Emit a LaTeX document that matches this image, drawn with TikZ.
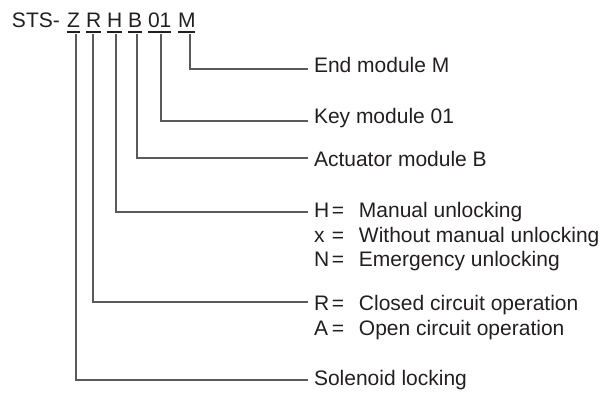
\documentclass[tikz,border=0pt]{standalone}
\usepackage{fontspec}
\setmainfont{Liberation Sans}
\definecolor{txt}{HTML}{231F20}
\definecolor{ln}{HTML}{5A5A5A}
\newcommand\coderow[2]{\makebox[18pt][l]{#1}=\hspace{14.7pt}#2}
\begin{document}
\begin{tikzpicture}[x=1pt,y=-1pt,
  every node/.style={inner sep=0pt,outer sep=0pt,text=txt,font=\fontsize{21}{25}\selectfont},
  code/.style={anchor=base west},
  lbl/.style={anchor=base west},
  uline/.style={draw=txt,line width=1.2pt},
  conn/.style={draw=ln,line width=1.3pt}]
\useasboundingbox (0,0) rectangle (614,394);
% header
\node[code] (sts) at (12,27) {STS-};
\node[code] (cz) at (67,27) {Z};
\node[code] (cr) at (86,27) {R};
\node[code] (ch) at (107,27) {H};
\node[code] (cb) at (128,27) {B};
\node[code] (c01) at (148,27) {01};
\node[code] (cm) at (178,27) {M};
\foreach \n in {cz,cr,ch,cb,c01,cm}
  \draw[uline] ([yshift=-5pt]\n.base west) -- ([yshift=-5pt]\n.base east);
% connector start points
\coordinate (sz) at (76,34);
\coordinate (sr) at (93,34);
\coordinate (sh) at (116,34);
\coordinate (sb) at (137,34);
\coordinate (s01) at (161,34);
\coordinate (sm) at (190,34);
% connector end points
\coordinate (em) at (308,69);
\coordinate (e01) at (308,121);
\coordinate (eb) at (308,158);
\coordinate (eh) at (308,212);
\coordinate (er) at (308,302);
\coordinate (ez) at (308,380);
% labels
\node[lbl] (lm) at (314,72.5) {End module M};
\node[lbl] (l01) at (314,123.5) {Key module 01};
\node[lbl] (lb) at (314,166.5) {Actuator module B};
\node[lbl] (lh1) at (314,217.5) {\coderow{H}{Manual unlocking}};
\node[lbl] (lh2) at (314,242) {\coderow{x}{Without manual unlocking}};
\node[lbl] (lh3) at (314,266.5) {\coderow{N}{Emergency unlocking}};
\node[lbl] (lr1) at (314,310.5) {\coderow{R}{Closed circuit operation}};
\node[lbl] (lr2) at (314,335) {\coderow{A}{Open circuit operation}};
\node[lbl] (lz) at (314,385.5) {Solenoid locking};
% connectors
\draw[conn] (sm) |- (em);
\draw[conn] (s01) |- (e01);
\draw[conn] (sb) |- (eb);
\draw[conn] (sh) |- (eh);
\draw[conn] (sr) |- (er);
\draw[conn] (sz) |- (ez);
\end{tikzpicture}
\end{document}
